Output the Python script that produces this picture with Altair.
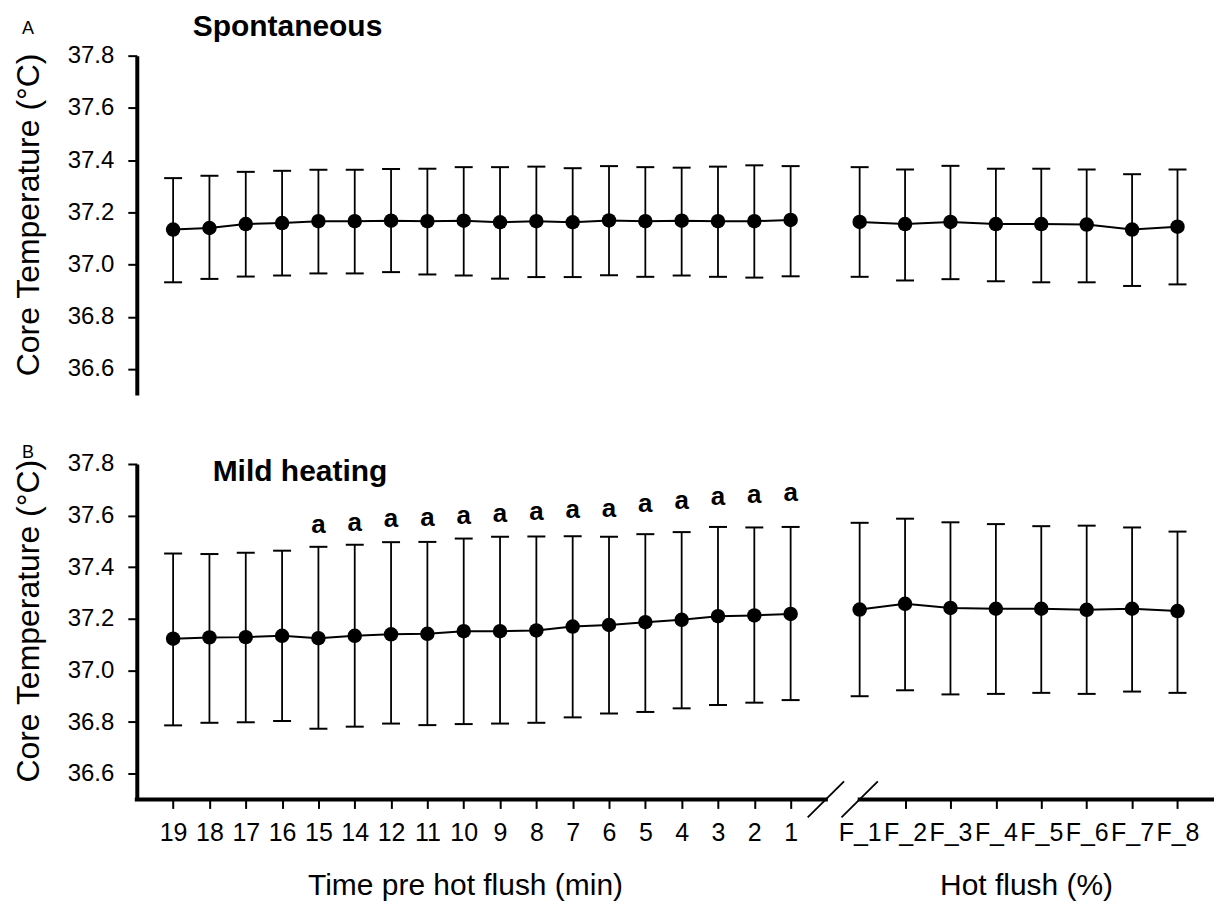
import json
import altair as alt
import pandas as pd

# ---------------- data ----------------
minutes = ["19", "18", "17", "16", "15", "14", "12", "11", "10", "9", "8", "7", "6", "5", "4", "3", "2", "1"]
flush = ["F_1", "F_2", "F_3", "F_4", "F_5", "F_6", "F_7", "F_8"]

a_mean_pre = [37.134, 37.140, 37.155, 37.159, 37.166, 37.166, 37.168, 37.166, 37.168, 37.162, 37.166, 37.162, 37.169, 37.166, 37.168, 37.166, 37.166, 37.171]
a_upper_pre = [37.331, 37.340, 37.355, 37.359, 37.363, 37.363, 37.366, 37.367, 37.373, 37.373, 37.375, 37.369, 37.377, 37.373, 37.371, 37.375, 37.380, 37.377]
a_lower_pre = [36.932, 36.945, 36.954, 36.958, 36.966, 36.966, 36.971, 36.962, 36.958, 36.946, 36.952, 36.952, 36.959, 36.953, 36.958, 36.953, 36.950, 36.955]
a_mean_hf = [37.163, 37.155, 37.163, 37.155, 37.155, 37.153, 37.134, 37.145]
a_upper_hf = [37.373, 37.364, 37.378, 37.367, 37.367, 37.364, 37.346, 37.364]
a_lower_hf = [36.953, 36.939, 36.944, 36.936, 36.932, 36.932, 36.918, 36.924]

b_mean_pre = [37.123, 37.128, 37.129, 37.134, 37.125, 37.134, 37.140, 37.142, 37.152, 37.152, 37.155, 37.170, 37.176, 37.187, 37.196, 37.210, 37.213, 37.219]
b_upper_pre = [37.453, 37.451, 37.456, 37.464, 37.479, 37.487, 37.497, 37.498, 37.511, 37.518, 37.519, 37.520, 37.518, 37.528, 37.536, 37.556, 37.554, 37.556]
b_lower_pre = [36.787, 36.797, 36.799, 36.804, 36.774, 36.782, 36.794, 36.788, 36.792, 36.794, 36.797, 36.818, 36.833, 36.839, 36.853, 36.866, 36.875, 36.885]
b_mean_hf = [37.236, 37.258, 37.242, 37.239, 37.239, 37.235, 37.239, 37.230]
b_upper_hf = [37.572, 37.588, 37.574, 37.567, 37.559, 37.561, 37.554, 37.538]
b_lower_hf = [36.900, 36.923, 36.907, 36.909, 36.913, 36.909, 36.918, 36.913]

sig_minutes = ["15", "14", "12", "11", "10", "9", "8", "7", "6", "5", "4", "3", "2", "1"]
sig_text = "a"
sig_y = [37.564, 37.573, 37.586, 37.592, 37.599, 37.605, 37.612, 37.621, 37.624, 37.644, 37.657, 37.672, 37.680, 37.689]

y_ticks = [36.6, 36.8, 37.0, 37.2, 37.4, 37.6, 37.8]
y_title = "Core Temperature (°C)"
x_title_pre = "Time pre hot flush (min)"
x_title_hf = "Hot flush (%)"

# ---------------- layout helpers ----------------
FONT = "Liberation Sans"
pos_pre = [float(i) for i in range(len(minutes))]
pos_hf = [18.9 + 1.25 * j for j in range(len(flush))]
positions = pos_pre + pos_hf
labels = minutes + flush
pos_of = dict(zip(labels, positions))
X_DOMAIN = [-1.0, 28.6]
BREAK_L, BREAK_R = 17.97, 18.9
UNIT_PX = 36.4
WIDTH = round((X_DOMAIN[1] - X_DOMAIN[0]) * UNIT_PX)

label_expr = f"{json.dumps(labels)}[indexof({json.dumps(positions)}, datum.value)]"


def make_df(mean_pre, up_pre, lo_pre, mean_hf, up_hf, lo_hf):
    rows = []
    for lab, p, m, u, l in zip(minutes, pos_pre, mean_pre, up_pre, lo_pre):
        rows.append(dict(label=lab, pos=p, mean=m, upper=u, lower=l, grp="pre"))
    for lab, p, m, u, l in zip(flush, pos_hf, mean_hf, up_hf, lo_hf):
        rows.append(dict(label=lab, pos=p, mean=m, upper=u, lower=l, grp="hf"))
    return pd.DataFrame(rows)


def panel(df, height, letter, title, title_dx, title_dy, letter_dy, show_x, sig=None):
    px_per_deg = height / 1.3
    if show_x:
        xaxis = alt.Axis(values=positions, labelExpr=label_expr, domain=False, grid=False,
                         ticks=True, tickSize=9, tickWidth=2, tickColor="black",
                         tickOpacity={"condition": {"test": f"datum.value === {pos_hf[0]}", "value": 0}, "value": 1},
                         labelFontSize=25, labelPadding=12, labelColor="black", labelFont=FONT,
                         labelOverlap=False, labelFlush=False, labelAngle=0, title=None)
    else:
        xaxis = None
    xs = alt.Scale(domain=X_DOMAIN, nice=False, zero=False)
    ys = alt.Scale(domain=[36.5, 37.8], nice=False, zero=False)
    yaxis = alt.Axis(values=y_ticks, format=".1f", grid=False, domainWidth=4, domainColor="black",
                     tickSize=9, tickWidth=2, tickColor="black", labelFontSize=24, labelPadding=14,
                     labelColor="black", labelFont=FONT, title=y_title, titleFontSize=32,
                     titleFontWeight="normal", titleFont=FONT, titleColor="black", titlePadding=22,
                     titleY=height / 2 - 11)

    def X(field):
        return alt.X(f"{field}:Q", scale=xs, axis=xaxis)

    def Y(field):
        return alt.Y(f"{field}:Q", scale=ys, axis=yaxis)

    base = alt.Chart(df)
    stems = base.mark_rule(color="black", strokeWidth=1.8).encode(x=X("pos"), y=Y("lower"), y2="upper")
    cap_u = base.mark_tick(orient="horizontal", color="black", size=18, thickness=2, opacity=1).encode(x=X("pos"), y=Y("upper"))
    cap_l = base.mark_tick(orient="horizontal", color="black", size=18, thickness=2, opacity=1).encode(x=X("pos"), y=Y("lower"))
    line = base.mark_line(color="black", strokeWidth=2).encode(x=X("pos"), y=Y("mean"), detail="grp:N")
    pts = base.mark_circle(color="black", opacity=1, size=210).encode(x=X("pos"), y=Y("mean"))

    layers = [stems, cap_u, cap_l, line, pts]

    if show_x:
        seg_df = pd.DataFrame({"x0": [X_DOMAIN[0], BREAK_R], "x1": [BREAK_L, X_DOMAIN[1]], "y": [36.5, 36.5]})
        segs = alt.Chart(seg_df).mark_rule(color="black", strokeWidth=4, strokeCap="square").encode(
            x=X("x0"), x2="x1", y=Y("y"))
        d = 18 / px_per_deg
        sl_df = pd.DataFrame({"x0": [BREAK_L - 0.5, BREAK_R - 0.5], "x1": [BREAK_L + 0.5, BREAK_R + 0.5],
                              "y0": [36.5 - d, 36.5 - d], "y1": [36.5 + d, 36.5 + d]})
        slashes = alt.Chart(sl_df).mark_rule(color="black", strokeWidth=1.8).encode(
            x=X("x0"), x2="x1", y=Y("y0"), y2="y1")
        t_df = pd.DataFrame({"t": [x_title_pre, x_title_hf],
                             "pos": [(pos_pre[0] + pos_pre[-1]) / 2 - 0.45, (pos_hf[0] + pos_hf[-1]) / 2 + 0.22]})
        xtitles = alt.Chart(t_df).mark_text(fontSize=30, font=FONT, color="black", baseline="middle").encode(
            x=X("pos"), y=alt.value(height + 87), text="t:N")
        layers = [segs, slashes] + layers + [xtitles]

    if sig is not None:
        sig_df = pd.DataFrame({"pos": [pos_of[m] for m in sig_minutes], "y": sig_y, "t": [sig_text] * len(sig_y)})
        sig_layer = alt.Chart(sig_df).mark_text(fontSize=26, fontWeight="bold", font=FONT, color="black",
                                                baseline="middle").encode(x=X("pos"), y=Y("y"), text="t:N")
        layers.append(sig_layer)

    ttl = alt.Chart(pd.DataFrame({"t": [title]})).mark_text(
        fontSize=30, fontWeight="bold", font=FONT, color="black", align="left", baseline="middle").encode(
        x=alt.value(title_dx), y=alt.value(title_dy), text="t:N")
    let = alt.Chart(pd.DataFrame({"t": [letter]})).mark_text(
        fontSize=18, font=FONT, color="black", align="center", baseline="middle").encode(
        x=alt.value(-109), y=alt.value(letter_dy), text="t:N")
    layers += [ttl, let]
    return alt.layer(*layers).properties(width=WIDTH, height=height)


df_a = make_df(a_mean_pre, a_upper_pre, a_lower_pre, a_mean_hf, a_upper_hf, a_lower_hf)
df_b = make_df(b_mean_pre, b_upper_pre, b_lower_pre, b_mean_hf, b_upper_hf, b_lower_hf)

chart_a = panel(df_a, 340, "A", "Spontaneous", 56, -29, -27, show_x=False)
chart_b = panel(df_b, 336, "B", "Mild heating", 76, 8, -11, show_x=True, sig=True)

chart = alt.vconcat(chart_a, chart_b, spacing=49).properties(
    padding={"left": 4, "top": 3, "right": 0, "bottom": 0}
).configure(font=FONT, background="white").configure_view(stroke=None)

chart.save("out.html", embed_options={"renderer": "svg", "actions": False})
